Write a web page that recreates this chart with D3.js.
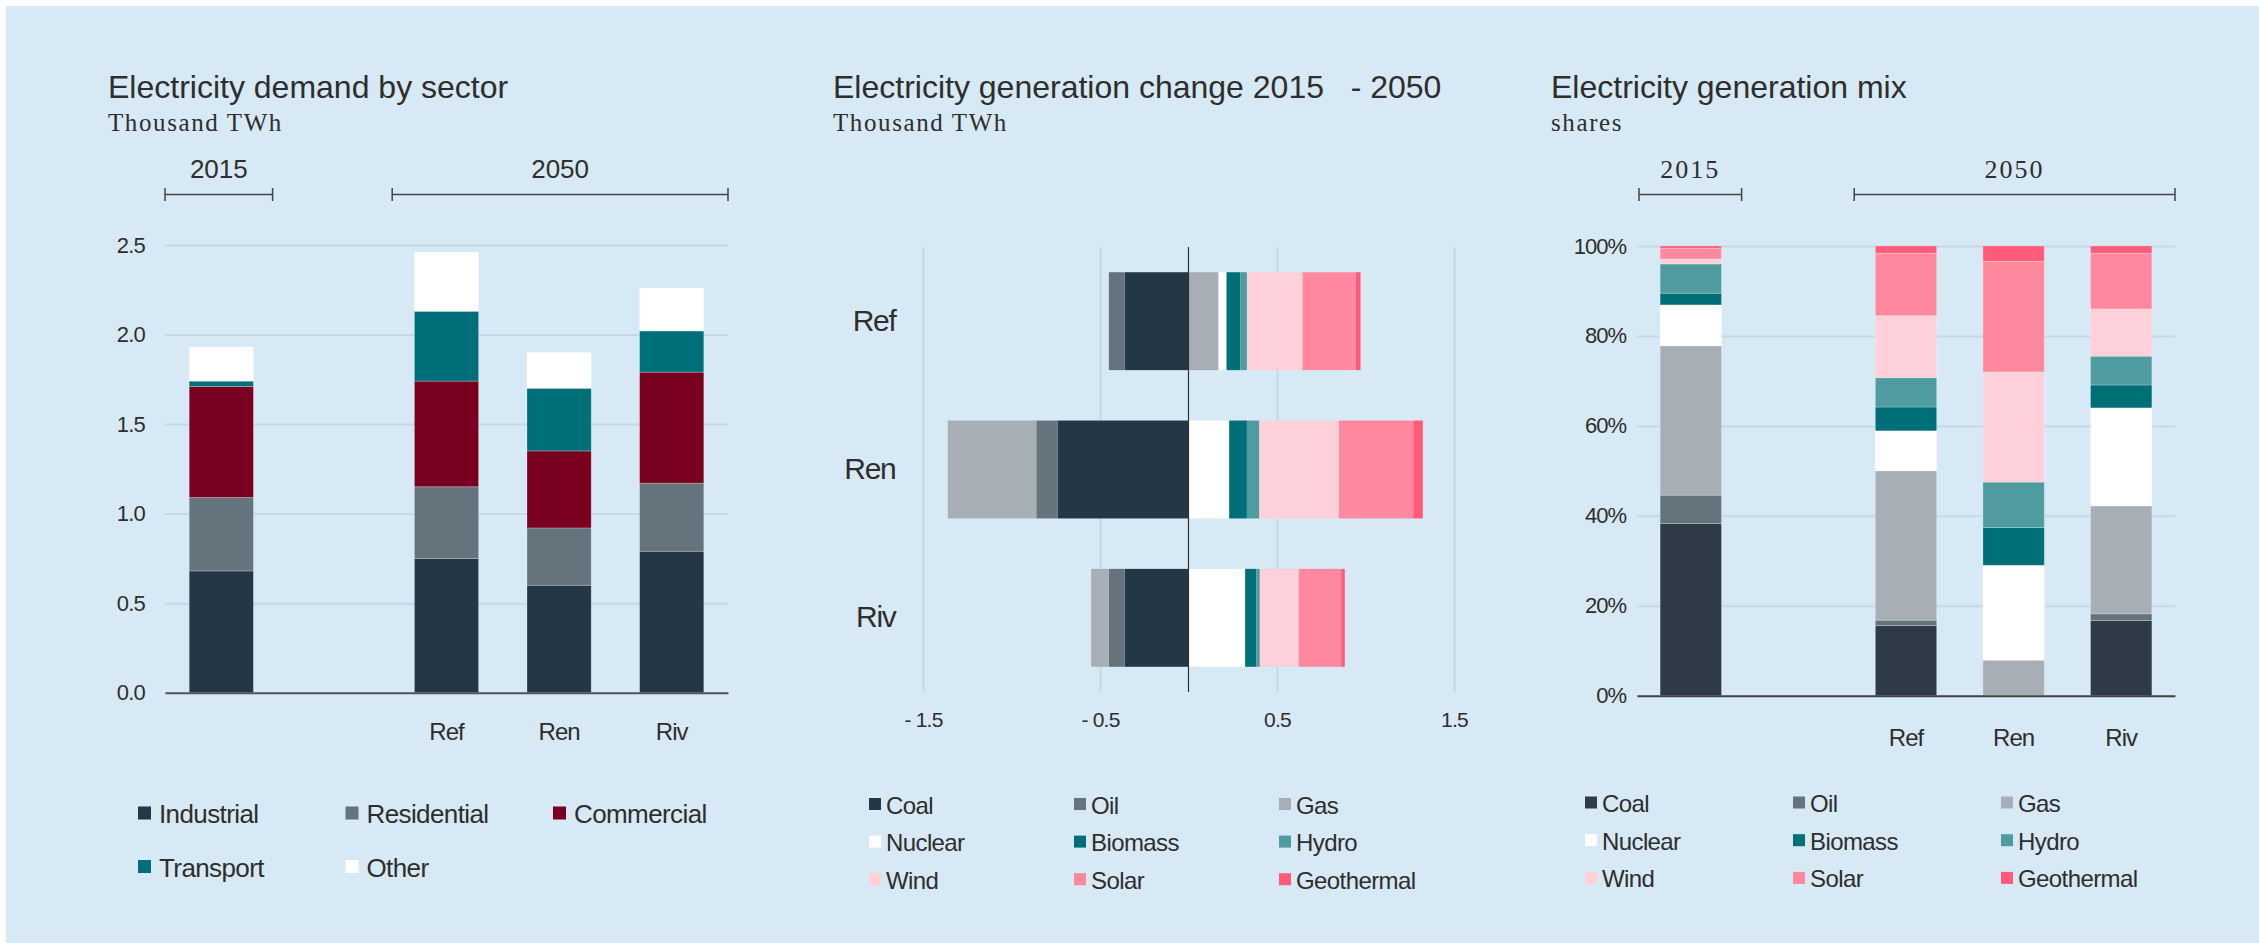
<!DOCTYPE html>
<html>
<head>
<meta charset="utf-8">
<script src="https://cdn.jsdelivr.net/npm/d3@7"></script>
<style>
  body { margin: 0; background: #fff; }
  svg { display: block; }
  text { fill: #2e2e2e; font-family: "Liberation Sans", Arial, sans-serif; }
  .serif { font-family: "Liberation Serif", "Times New Roman", serif; }
</style>
</head>
<body>
<svg id="svg" width="2259" height="943"></svg>
<script>
// ---- data ----
var slots = ["2015", "", "Ref", "Ren", "Riv"];   // "" = empty slot between 2015 and 2050
var bars = ["2015", "Ref", "Ren", "Riv"];
var scenarios = ["Ref", "Ren", "Riv"];

var sectors = ["Industrial", "Residential", "Commercial", "Transport", "Other"];
var industrial  = [0.68, 0.75, 0.60, 0.79];
var residential = [0.41, 0.40, 0.32, 0.38];
var commercial  = [0.62, 0.59, 0.43, 0.62];
var transport   = [0.03, 0.39, 0.35, 0.23];
var other       = [0.19, 0.33, 0.20, 0.24];

var fuels = ["Coal", "Oil", "Gas", "Nuclear", "Biomass", "Hydro", "Wind", "Solar", "Geothermal"];
// change 2015-2050, thousand TWh (Ref, Ren, Riv)
var chgCoal    = [-0.36, -0.74, -0.36];
var chgOil     = [-0.09, -0.12, -0.09];
var chgGas     = [0.17, -0.50, -0.10];
var chgNuclear = [0.045, 0.23, 0.32];
var chgBiomass = [0.078, 0.10, 0.063];
var chgHydro   = [0.037, 0.07, 0.02];
var chgWind    = [0.315, 0.45, 0.22];
var chgSolar   = [0.30, 0.42, 0.24];
var chgGeo     = [0.027, 0.054, 0.02];

// generation mix shares, % (2015, Ref, Ren, Riv)
var mixCoal    = [38.3, 15.6, 0, 16.7];
var mixOil     = [6.3, 1.2, 0, 1.5];
var mixGas     = [33.2, 33.2, 7.9, 24.0];
var mixNuclear = [9.1, 8.9, 21.1, 21.8];
var mixBiomass = [2.6, 5.3, 8.4, 5.1];
var mixHydro   = [6.5, 6.5, 10.1, 6.4];
var mixWind    = [1.1, 13.8, 24.5, 10.5];
var mixSolar   = [2.4, 13.9, 24.6, 12.4];
var mixGeo     = [0.5, 1.6, 3.4, 1.6];

var demandTicks = [0, 0.5, 1.0, 1.5, 2.0, 2.5];
var changeTicks = [-1.5, -0.5, 0.5, 1.5];
var shareTicks = [0, 0.2, 0.4, 0.6, 0.8, 1.0];

var sectorColors = ["#243746", "#64737c", "#7a0020", "#007078", "#ffffff"];
var fuelColors = ["#243746", "#64737c", "#a7aeb5", "#ffffff", "#007078", "#4e9ca0", "#fdd0da", "#ff889e", "#ff5a7a"];
var mixColors = ["#2f3a47", "#64737c", "#a7aeb5", "#ffffff", "#007078", "#4e9ca0", "#fdd0da", "#ff889e", "#ff5a7a"];

var gridColor = "#c4d9e5";

// ---- build tables ----
var sectorSeries = [industrial, residential, commercial, transport, other];
var demandRows = bars.map(function(b, i) {
  var r = {bar: b};
  sectors.forEach(function(s, j) { r[s] = sectorSeries[j][i]; });
  return r;
});
var chgSeries = [chgCoal, chgOil, chgGas, chgNuclear, chgBiomass, chgHydro, chgWind, chgSolar, chgGeo];
var changeRows = scenarios.map(function(sc, i) {
  var r = {bar: sc};
  fuels.forEach(function(f, j) { r[f] = chgSeries[j][i]; });
  return r;
});
var mixSeries = [mixCoal, mixOil, mixGas, mixNuclear, mixBiomass, mixHydro, mixWind, mixSolar, mixGeo];
var mixRows = bars.map(function(b, i) {
  var r = {bar: b};
  fuels.forEach(function(f, j) { r[f] = mixSeries[j][i] / 100; });
  return r;
});

var svg = d3.select("#svg");
svg.append("rect").attr("x", 6).attr("y", 6).attr("width", 2253).attr("height", 937).attr("fill", "#d6e9f4");

function titles(x, title, sub) {
  svg.append("text").attr("x", x).attr("y", 98).attr("font-size", 32)
    .style("white-space", "pre").text(title);
  svg.append("text").attr("class", "serif").attr("x", x).attr("y", 131).attr("font-size", 25)
    .attr("letter-spacing", 1.6).text(sub);
}

function bracket(x0, x1, label, serif) {
  svg.append("path").attr("d", "M" + x0 + ",188V201M" + x0 + ",194.5H" + x1 + "M" + x1 + ",188V201")
    .attr("stroke", "#444").attr("stroke-width", 1.5).attr("fill", "none");
  var t = svg.append("text").attr("x", (x0 + x1) / 2).attr("y", 178).attr("text-anchor", "middle")
    .attr("font-size", 26).text(label);
  if (serif) t.attr("class", "serif").attr("letter-spacing", 2);
}

function legend(keys, colors, x0, colStep, y0, rowStep, size, fontSize, gap) {
  keys.forEach(function(k, i) {
    var cx = x0 + (i % 3) * colStep, cy = y0 + Math.floor(i / 3) * rowStep;
    svg.append("rect").attr("x", cx).attr("y", cy).attr("width", size).attr("height", size).attr("fill", colors[i]);
    svg.append("text").attr("x", cx + size + gap).attr("y", cy + size + 3.5).attr("font-size", fontSize)
      .attr("letter-spacing", -0.6).text(k);
  });
}

function slotEdges(x, first, last) {
  var pad = (x.step() - x.bandwidth()) / 2;
  return [x(first) - pad, x(last) + x.bandwidth() + pad];
}

// ---- chart 1: demand by sector ----
(function() {
  var x = d3.scaleBand().domain(slots).range([165, 728]).paddingInner(0.43).paddingOuter(0.215);
  var y = d3.scaleLinear().domain([0, 2.5]).range([692.7, 245]);
  titles(108, "Electricity demand by sector", "Thousand TWh");
  var e1 = slotEdges(x, "2015", "2015"), e2 = slotEdges(x, "Ref", "Riv");
  bracket(e1[0], e1[1] - 5, "2015", false);
  bracket(e2[0] + 2, e2[1], "2050", false);

  var ya = svg.append("g").attr("transform", "translate(165,0)")
    .call(d3.axisLeft(y).tickValues(demandTicks).tickFormat(d3.format(".1f")).tickSize(-563).tickPadding(20));
  ya.select(".domain").remove();
  ya.selectAll("line").attr("stroke", gridColor).attr("stroke-width", 2);
  ya.selectAll("text").attr("font-size", 22).attr("letter-spacing", -0.8).attr("fill", "#2e2e2e");

  var stack = d3.stack().keys(sectors)(demandRows);
  svg.append("g").selectAll("g").data(stack).enter().append("g")
    .attr("fill", function(d, i) { return sectorColors[i]; })
    .selectAll("rect").data(function(d) { return d; }).enter().append("rect")
    .attr("x", function(d) { return x(d.data.bar); })
    .attr("width", x.bandwidth())
    .attr("y", function(d) { return y(d[1]); })
    .attr("height", function(d) { return y(d[0]) - y(d[1]); })
    .attr("stroke", "rgba(255,255,255,0.3)").attr("stroke-width", 0.8);

  var xa = svg.append("g").attr("transform", "translate(0,692.7)")
    .call(d3.axisBottom(x).tickSize(0).tickPadding(30).tickFormat(function(d) { return scenarios.indexOf(d) >= 0 ? d : ""; }));
  xa.select(".domain").attr("stroke", "#555").attr("stroke-width", 2);
  xa.selectAll("text").attr("font-size", 24).attr("letter-spacing", -1).attr("fill", "#2e2e2e");

  legend(sectors, sectorColors, 138, 207.5, 806.5, 53.5, 13, 26, 8);
})();

// ---- chart 2: generation change ----
(function() {
  var x = d3.scaleLinear().domain([-1.5, 1.5]).range([923, 1454]);
  var y = d3.scaleBand().domain(scenarios).range([247, 692]).paddingInner(0.34).paddingOuter(0.17);
  titles(833, "Electricity generation change 2015   - 2050", "Thousand TWh");

  var xa = svg.append("g").attr("transform", "translate(0,692)")
    .call(d3.axisBottom(x).tickValues(changeTicks).tickSize(-445).tickPadding(20)
      .tickFormat(function(d) { return d < 0 ? "- " + Math.abs(d) : d; }));
  xa.select(".domain").remove();
  xa.selectAll("line").attr("stroke", gridColor).attr("stroke-width", 2);
  xa.selectAll("text").attr("font-size", 21).attr("letter-spacing", -0.8).attr("fill", "#2e2e2e");

  var stack = d3.stack().keys(fuels).offset(d3.stackOffsetDiverging)(changeRows);
  svg.append("g").selectAll("g").data(stack).enter().append("g")
    .attr("fill", function(d, i) { return fuelColors[i]; })
    .selectAll("rect").data(function(d) { return d; }).enter().append("rect")
    .attr("y", function(d) { return y(d.data.bar); })
    .attr("height", y.bandwidth())
    .attr("x", function(d) { return x(Math.min(d[0], d[1])); })
    .attr("width", function(d) { return Math.abs(x(d[1]) - x(d[0])); });

  svg.append("line").attr("x1", x(0)).attr("x2", x(0)).attr("y1", 247).attr("y2", 692)
    .attr("stroke", "#333").attr("stroke-width", 1.2);

  var ya = svg.append("g").attr("transform", "translate(" + (x(0) - 265) + ",0)")
    .call(d3.axisLeft(y).tickSize(0).tickPadding(28));
  ya.select(".domain").remove();
  ya.selectAll("text").attr("font-size", 30).attr("letter-spacing", -1.3).attr("fill", "#2e2e2e");

  legend(fuels, fuelColors, 869, 205, 798, 37.6, 12, 24, 5);
})();

// ---- chart 3: generation mix ----
(function() {
  var x = d3.scaleBand().domain(slots).range([1637, 2175]).paddingInner(0.43).paddingOuter(0.215);
  var y = d3.scaleLinear().domain([0, 1]).range([695.7, 246]);
  titles(1551, "Electricity generation mix", "shares");
  var e1 = slotEdges(x, "2015", "2015"), e2 = slotEdges(x, "Ref", "Riv");
  bracket(e1[0] + 2, e1[1] - 3, "2015", true);
  bracket(e2[0] + 2, e2[1], "2050", true);

  var ya = svg.append("g").attr("transform", "translate(1637,0)")
    .call(d3.axisLeft(y).tickValues(shareTicks).tickFormat(d3.format(".0%")).tickSize(-538).tickPadding(11));
  ya.select(".domain").remove();
  ya.selectAll("line").attr("stroke", gridColor).attr("stroke-width", 2);
  ya.selectAll("text").attr("font-size", 22).attr("letter-spacing", -1).attr("fill", "#2e2e2e");

  var stack = d3.stack().keys(fuels)(mixRows);
  svg.append("g").selectAll("g").data(stack).enter().append("g")
    .attr("fill", function(d, i) { return mixColors[i]; })
    .selectAll("rect").data(function(d) { return d; }).enter().append("rect")
    .attr("x", function(d) { return x(d.data.bar); })
    .attr("width", x.bandwidth())
    .attr("y", function(d) { return y(d[1]); })
    .attr("height", function(d) { return y(d[0]) - y(d[1]); })
    .attr("stroke", "rgba(255,255,255,0.3)").attr("stroke-width", 0.8);

  var xa = svg.append("g").attr("transform", "translate(0,695.7)")
    .call(d3.axisBottom(x).tickSize(0).tickPadding(33).tickFormat(function(d) { return scenarios.indexOf(d) >= 0 ? d : ""; }));
  xa.select(".domain").attr("stroke", "#444").attr("stroke-width", 2);
  xa.selectAll("text").attr("font-size", 24).attr("letter-spacing", -1).attr("fill", "#2e2e2e");

  legend(fuels, mixColors, 1585, 208, 796.5, 37.7, 12, 24, 5);
})();
</script>
</body>
</html>
